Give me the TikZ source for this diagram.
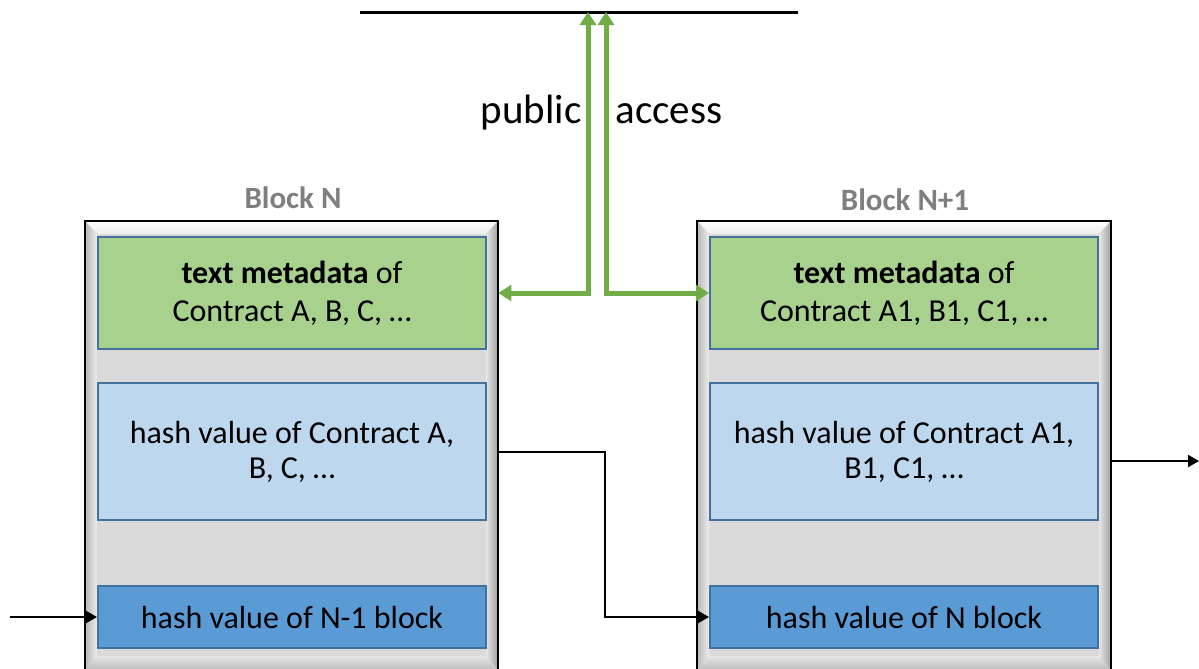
\documentclass[tikz,border=0pt]{standalone}
\usepackage{fontspec}
\setmainfont{Carlito}
\usetikzlibrary{arrows.meta,calc}
\definecolor{gfill}{HTML}{A9D18E}
\definecolor{lbfill}{HTML}{BDD7EE}
\definecolor{dbfill}{HTML}{5B9BD5}
\definecolor{bborder}{HTML}{41719C}
\definecolor{garr}{HTML}{70AD47}
\definecolor{face}{HTML}{DBDADB}
\definecolor{lbl}{HTML}{7F7F7F}
\tikzset{
  px/.style={x=0.5pt,y=-0.5pt},
  inbox/.style={draw=bborder,line width=1pt,minimum width=194pt,inner sep=0pt,align=center,font=\fontsize{16}{17.5}\selectfont},
  garrow/.style={draw=garr,line width=2.5pt,{Triangle[width=8pt,length=6.5pt]}-{Triangle[width=8pt,length=6.5pt]}},
  barrow/.style={draw=black,line width=1pt,-{Triangle[width=6pt,length=5.5pt]}},
  blocklabel/.style={text=lbl,font=\bfseries\fontsize{15.5}{17}\selectfont},
}
\newcommand{\bevelblock}[3]{% name, left x, right x
  \node[px,inner sep=0pt,minimum width={(#3-#2)*0.5pt},minimum height={(669-221)*0.5pt}] (#1) at ({(#2+#3)/2},{(221+669)/2}) {};
  \fill[face] (#2,221) rectangle (#3,669);
  \shade[top color=white,bottom color=gray!15] (#2,221) -- (#3,221) -- (#3-12,234) -- (#2+12,234) -- cycle;
  \shade[top color=gray!20,bottom color=gray!50] (#2,669) -- (#3,669) -- (#3-12,656) -- (#2+12,656) -- cycle;
  \shade[left color=gray!55,right color=gray!15] (#2,221) -- (#2+12,234) -- (#2+12,656) -- (#2,669) -- cycle;
  \shade[left color=gray!20,right color=gray!75] (#3,221) -- (#3-12,234) -- (#3-12,656) -- (#3,669) -- cycle;
  \fill[face] (#2+12,234) rectangle (#3-12,656);
  \draw[black,line width=1.3pt] (#2,669) -- (#2,221) -- (#3,221) -- (#3,669);
}
\begin{document}
\begin{tikzpicture}[px]
\useasboundingbox (0,0) rectangle (1199,669);
\clip (0,0) rectangle (1199,669);
\fill[white] (0,0) rectangle (1199,669);

% blocks
\bevelblock{blkN}{85}{498}
\bevelblock{blkNa}{697}{1111}

\node[blocklabel] (lblN) at (293,198) {Block N};
\node[blocklabel] (lblNa) at (905,200) {Block N+1};

% inner boxes, block N
\node[inbox,fill=gfill,minimum height=56pt,font=\fontsize{16}{19}\selectfont] (gN) at (292,293) {\textbf{text metadata} of\\Contract A, B, C, …};
\node[inbox,fill=lbfill,minimum height=68.5pt] (hN) at (292,451.5) {hash value of Contract A,\\B, C, …};
\node[inbox,fill=dbfill,minimum height=31pt] (dN) at (292,617) {hash value of N-1 block};

% inner boxes, block N+1
\node[inbox,fill=gfill,minimum height=56pt,font=\fontsize{16}{19}\selectfont] (gNa) at (904,293) {\textbf{text metadata} of\\Contract A1, B1, C1, …};
\node[inbox,fill=lbfill,minimum height=68.5pt] (hNa) at (904,451.5) {hash value of Contract A1,\\B1, C1, …};
\node[inbox,fill=dbfill,minimum height=31pt] (dNa) at (904,617) {hash value of N block};

% public bus
\coordinate (busL) at (360,12);
\coordinate (busR) at (798,12);
\draw[line width=1.5pt] (busL) -- (busR);
\coordinate (topA) at (588,12);
\coordinate (topB) at (606,12);

\node[font=\fontsize{20.5}{22}\selectfont,anchor=base east,inner sep=0pt] (pub) at (582,123) {public};
\node[font=\fontsize{20.5}{22}\selectfont,anchor=base west,inner sep=0pt] (acc) at (615,123) {access};

\draw[garrow] (topA) |- (gN.east -| blkN.east);
\draw[garrow] (topB) |- (gNa.west);

% black connectors
\coordinate (mid) at (605,500);
\coordinate (inL) at (10,617);
\coordinate (outR) at (1199,461);
\draw[barrow] (hN.east -| blkN.east) -| (mid) |- (dNa.west);
\draw[barrow] (inL) -- (dN.west);
\draw[barrow] (blkNa.east |- outR) -- (outR);
\end{tikzpicture}
\end{document}
